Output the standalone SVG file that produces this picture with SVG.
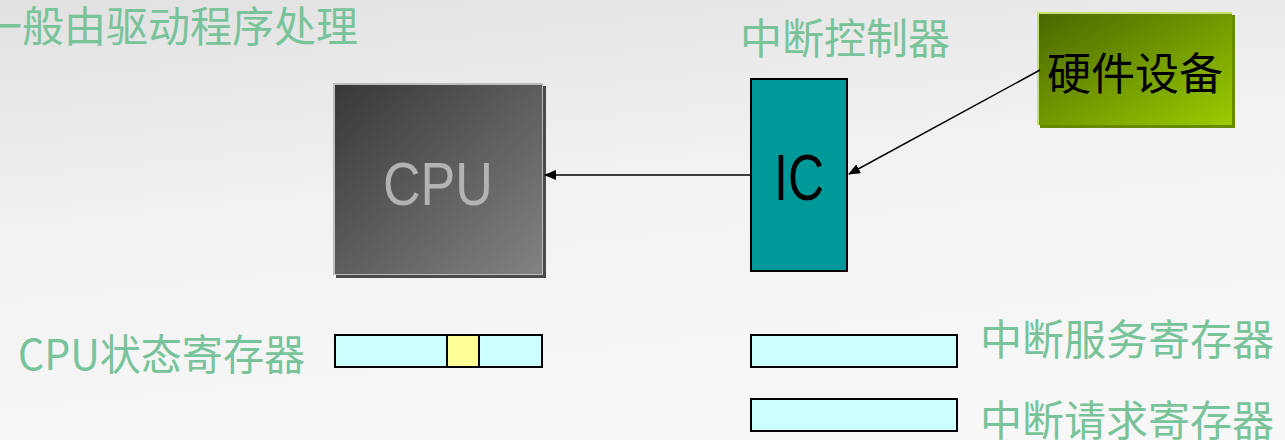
<svg xmlns="http://www.w3.org/2000/svg" width="1285" height="440" viewBox="0 0 1285 440">
<defs>
<linearGradient id="bg" x1="0" y1="0" x2="0.3" y2="1">
<stop offset="0" stop-color="#e1e1e1"/>
<stop offset="0.5" stop-color="#f2f2f2"/>
<stop offset="1" stop-color="#f7f7f7"/>
</linearGradient>
<linearGradient id="cpuG" x1="0" y1="0" x2="1" y2="1">
<stop offset="0" stop-color="#383838"/>
<stop offset="1" stop-color="#828282"/>
</linearGradient>
<linearGradient id="hwG" x1="0" y1="0" x2="1" y2="1">
<stop offset="0" stop-color="#4a6600"/>
<stop offset="1" stop-color="#9acc00"/>
</linearGradient>
<marker id="arr" markerWidth="12" markerHeight="10" refX="11" refY="5" orient="auto" markerUnits="userSpaceOnUse">
<path d="M0,0 L12,5 L0,10 Z" fill="#000"/>
</marker>
<style>
.lbl{font-family:"Noto Sans CJK SC","Noto Sans",sans-serif;font-size:42px;fill:#78c39a}
.reg{fill:#ccffff;stroke:#000;stroke-width:2}
.conn{stroke:#000;stroke-width:1.5;fill:none;marker-end:url(#arr)}
</style>
</defs>
<rect x="0" y="0" width="1285" height="440" fill="url(#bg)"/>
<g id="title-driver"><text class="lbl" x="-20" y="42">一般由驱动程序处理</text></g>
<g id="title-ic"><text class="lbl" x="740" y="54">中断控制器</text></g>
<g id="cpu">
<rect x="336" y="86" width="210" height="192" fill="#4a4a4a"/>
<rect x="333" y="83" width="210" height="192" fill="#bcbcbc"/>
<rect x="335" y="85" width="207" height="189" fill="url(#cpuG)"/>
<text x="438" y="205" text-anchor="middle" font-family="Liberation Sans, sans-serif" font-size="62" fill="#b3b3b3" textLength="110" lengthAdjust="spacingAndGlyphs">CPU</text>
</g>
<g id="ic">
<rect x="751" y="79" width="96" height="192" fill="#009999" stroke="#000" stroke-width="2"/>
<text x="799" y="200" text-anchor="middle" font-family="Liberation Sans, sans-serif" font-size="64" fill="#000" textLength="50" lengthAdjust="spacingAndGlyphs">IC</text>
</g>
<g id="hardware">
<rect x="1037" y="12" width="195" height="113" fill="#c4e070"/>
<rect x="1040" y="15" width="195" height="113" fill="#678a00"/>
<rect x="1039" y="14" width="193" height="111" fill="url(#hwG)"/>
<text x="1047" y="90" font-family="Noto Sans CJK SC, sans-serif" font-size="44" fill="#000">硬件设备</text>
</g>
<g id="connectors">
<line class="conn" x1="1040" y1="70" x2="849" y2="174"/>
<line class="conn" x1="751" y1="175" x2="545" y2="175"/>
</g>
<g id="cpu-status-reg">
<text class="lbl" x="18" y="370" textLength="287" lengthAdjust="spacingAndGlyphs">CPU状态寄存器</text>
<rect class="reg" x="335" y="335" width="207" height="32"/>
<rect x="447" y="335" width="32" height="32" fill="#ffff99" stroke="#000" stroke-width="2"/>
</g>
<g id="isr">
<rect class="reg" x="751" y="335" width="206" height="32"/>
<text class="lbl" x="980" y="355">中断服务寄存器</text>
</g>
<g id="irr">
<rect class="reg" x="751" y="399" width="206" height="32"/>
<text class="lbl" x="980" y="436">中断请求寄存器</text>
</g>
</svg>
